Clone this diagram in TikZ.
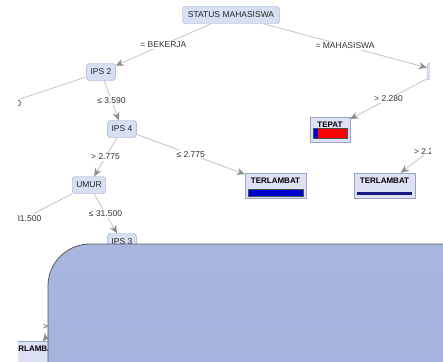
\documentclass[tikz,border=0pt]{standalone}
\usepackage{fontspec}
\setmainfont{Liberation Sans}
\usepackage{xcolor}
\usepackage{tikz}
\usetikzlibrary{arrows.meta, calc}
\definecolor{treefill}{HTML}{D9DFF2}
\definecolor{treeline}{HTML}{9AA3C6}
\definecolor{leaffill}{HTML}{DCE2F4}
\definecolor{edgegray}{HTML}{C8C8C8}
\definecolor{tipgray}{HTML}{8C8C8C}
\definecolor{labelgray}{HTML}{333333}
\definecolor{barblue}{HTML}{0000CC}
\definecolor{barred}{HTML}{FF0000}
\definecolor{barnavy}{HTML}{1A1A80}
\definecolor{panelblue}{HTML}{A8B6DF}
\definecolor{panelblue2}{HTML}{9FADDA}
\definecolor{panelrim}{HTML}{5A5A5A}

\begin{document}
\begin{tikzpicture}[
  x=1pt, y=-1pt,
  inner/.style={draw=treeline, fill=treefill, rounded corners=3pt, minimum height=17pt, inner xsep=4pt, inner ysep=2pt, font=\fontsize{8.5}{10}\selectfont, text=black!85},
  leaf/.style={draw=treeline, fill=leaffill, minimum width=61pt, text height=8pt, text depth=13pt, inner ysep=2pt, inner xsep=2pt, font=\fontsize{8}{10}\selectfont\bfseries},
  edge/.style={draw=edgegray, line width=0.9pt, -{Stealth[length=8pt, width=7pt, inset=2.5pt, color=tipgray]}},
  elabel/.style={fill=white, inner sep=1pt, font=\fontsize{8.5}{10}\selectfont, text=labelgray},
  bar/.style={draw=black!70, line width=0.4pt},
]
  \useasboundingbox (0,0) rectangle (443,361);

  \begin{scope}
    \clip (18,0) rectangle (430,361);

    % Nodes
    \node[inner, minimum width=97pt] (root) at (231,15) {STATUS MAHASISWA};
    \node[inner] (ips2) at (101,72) {IPS 2};
    \node[inner, minimum width=28pt] (ipsr) at (441,71.5) {};
    \node[inner] (ips4) at (122,129) {IPS 4};
    \node[inner] (umur) at (89,185) {UMUR};
    \node[inner] (ips3) at (122,242) {IPS 3};
    \node[leaf, minimum width=40pt] (tepat) at (330,129.5) {TEPAT};
    \node[leaf] (lambata) at (275.5,185.5) {TERLAMBAT};
    \node[leaf] (lambatb) at (384.5,185.5) {TERLAMBAT};
    \node[leaf] (lambatc) at (32.7,354) {TERLAMBAT};
    \coordinate (offips2) at (-73,130);
    \coordinate (offumur) at (-23,243);
    \coordinate (offright) at (456,130);

    % Bars
    \fill[barblue] ($(tepat.south west)+(3,-4)$) rectangle ($(tepat.south west)+(8,-14)$);
    \fill[barred] ($(tepat.south west)+(8,-4)$) rectangle ($(tepat.south east)+(-3,-14)$);
    \draw[bar] ($(tepat.south west)+(3,-4)$) rectangle ($(tepat.south east)+(-3,-14)$);
    \draw[bar, fill=barblue] ($(lambata.south west)+(3,-2)$) rectangle ($(lambata.south east)+(-3,-9)$);
    \fill[barnavy] ($(lambatb.south west)+(3,-3)$) rectangle ($(lambatb.south east)+(-3,-6)$);

    % Arrows
    \draw[edge] (root) -- node[elabel] {= BEKERJA} (ips2);
    \draw[edge] (root) -- node[elabel] {= MAHASISWA} (ipsr);
    \draw[edge] (ips2) -- node[elabel] {> 3.590} (offips2);
    \draw[edge] (ips2) -- node[elabel] {≤ 3.590} (ips4);
    \draw[edge] (ips4) -- node[elabel] {> 2.775} (umur);
    \draw[edge] (ips4) -- node[elabel] {≤ 2.775} (lambata);
    \draw[edge] (umur) -- node[elabel] {> 31.500} (offumur);
    \draw[edge] (umur) -- node[elabel] {≤ 31.500} (ips3);
    \draw[edge] (ipsr) -- node[elabel] {> 2.280} (tepat);
    \draw[edge] (offright) -- node[elabel] {> 2.280} (lambatb);
    \draw[edge] (ips3) -- (lambatc);
    \node[elabel, anchor=west] (gtc) at (42,327) {>};
  \end{scope}

  % Overlay panel
  \draw[panelrim, line width=0.8pt, top color=panelblue, bottom color=panelblue2, rounded corners=42pt]
    (48,520) -- (48,244) -- (520,244) -- (520,520) -- cycle;

\end{tikzpicture}
\end{document}
